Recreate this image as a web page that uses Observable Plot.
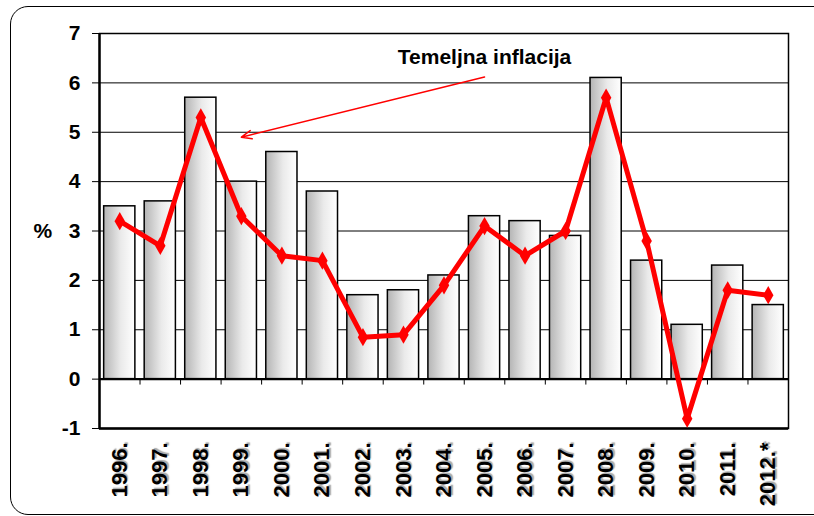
<!DOCTYPE html>
<html><head><meta charset="utf-8">
<script src="https://cdn.jsdelivr.net/npm/d3@7"></script>
<script src="https://cdn.jsdelivr.net/npm/@observablehq/plot@0.6"></script>
<style>
body{margin:0;background:#fff;}
#wrap{position:relative;width:814px;height:516px;overflow:hidden;font-family:"Liberation Sans",Arial,sans-serif;}
#frame{position:absolute;left:10px;top:6px;width:822px;height:509px;border:1.5px solid #000;border-radius:18px;box-sizing:border-box}
#chart{position:absolute;left:0;top:0}
#chart svg g[aria-label="x-axis tick label"] text{text-shadow:1.5px 1.5px 1px #aaa;}
</style></head><body>
<div id="wrap"><div id="frame"></div><div id="chart"></div></div>
<script>
const years = ["1996.","1997.","1998.","1999.","2000.","2001.","2002.","2003.","2004.","2005.","2006.","2007.","2008.","2009.","2010.","2011.","2012.*"];
const headline = [3.5, 3.6, 5.7, 4.0, 4.6, 3.8, 1.7, 1.8, 2.1, 3.3, 3.2, 2.9, 6.1, 2.4, 1.1, 2.3, 1.5];
const core = [3.2, 2.7, 5.3, 3.3, 2.5, 2.4, 0.85, 0.9, 1.9, 3.1, 2.5, 3.0, 5.7, 2.8, -0.8, 1.8, 1.7];
const yTicks = [-1, 0, 1, 2, 3, 4, 5, 6, 7];
const gridTicks = [1, 2, 3, 4, 5, 6, 7];
const annotationText = "Temeljna inflacija";
const annotation = [{x: "2005.", y: 6.5, text: annotationText}];
const arrowData = [{x1: "2005.", y1: 6.12, x2: "1999.", y2: 4.9}];

const data = years.map((y, i) => ({year: y, headline: headline[i], core: core[i]}));

const W = 814, H = 516, mL = 99, mR = 26, mT = 33, mB = 88;
const pad = 0.23;
const step = (W - mL - mR) / years.length;

const chart = Plot.plot({
  width: W, height: H,
  marginLeft: mL, marginRight: mR, marginTop: mT, marginBottom: mB,
  style: {fontFamily: "'Liberation Sans', Arial, sans-serif", background: "transparent", color: "#000"},
  x: {domain: years, paddingInner: pad, paddingOuter: pad / 2, round: false, label: null},
  y: {domain: [-1, 7], label: null},
  marks: [
    Plot.ruleY(gridTicks, {stroke: "#000", strokeWidth: 1}),
    Plot.barY(data, {x: "year", y: "headline", fill: "url(#barGrad)", stroke: "#000", strokeWidth: 1.5}),
    Plot.ruleY([0], {stroke: "#000", strokeWidth: 2.2}),
    Plot.ruleX(years, {x: d => d, y1: 0, y2: -0.12, dx: step / 2, stroke: "#000", strokeWidth: 1}),
    Plot.frame({stroke: "#000", strokeWidth: 1.5}),
    Plot.ruleX([years[0]], {y1: -1, y2: 7, dx: -step / 2, stroke: "#000", strokeWidth: 2.4}),
    Plot.ruleY([-1], {stroke: "#000", strokeWidth: 2.4}),
    Plot.line(data, {x: "year", y: "core", stroke: "#ff0000", strokeWidth: 5, strokeLinejoin: "miter"}),
    Plot.dot(data, {x: "year", y: "core", symbol: "diamond", r: 5.5, fill: "#ff0000"}),
    Plot.arrow(arrowData, {x1: "x1", y1: "y1", x2: "x2", y2: "y2", stroke: "#ff0000", strokeWidth: 1.5, headLength: 11, headAngle: 45}),
    Plot.text(annotation, {x: "x", y: "y", dy: -1, text: "text", fontSize: 21, fontWeight: "bold", fill: "#000", letterSpacing: "1.8px"}),
    Plot.text(["%"], {frameAnchor: "left", dx: -66, text: d => d, fontSize: 21, fontWeight: "bold", fill: "#000"}),
    Plot.axisY(yTicks, {tickSize: 7, tickPadding: 12, fontSize: 21, fontWeight: "bold", tickFormat: d => String(d)}),
    Plot.axisX({tickSize: 0, tickPadding: 14, tickRotate: -90, fontSize: 22, fontWeight: "bold"})
  ]
});

const defs = document.createElementNS("http://www.w3.org/2000/svg", "defs");
defs.innerHTML = '<linearGradient id="barGrad" x1="0" x2="1" y1="0" y2="0"><stop offset="0" stop-color="#b4b4b4"/><stop offset="0.55" stop-color="#eaeaea"/><stop offset="1" stop-color="#ffffff"/></linearGradient>';
chart.insertBefore(defs, chart.firstChild);
document.getElementById("chart").appendChild(chart);
</script>
</body></html>
